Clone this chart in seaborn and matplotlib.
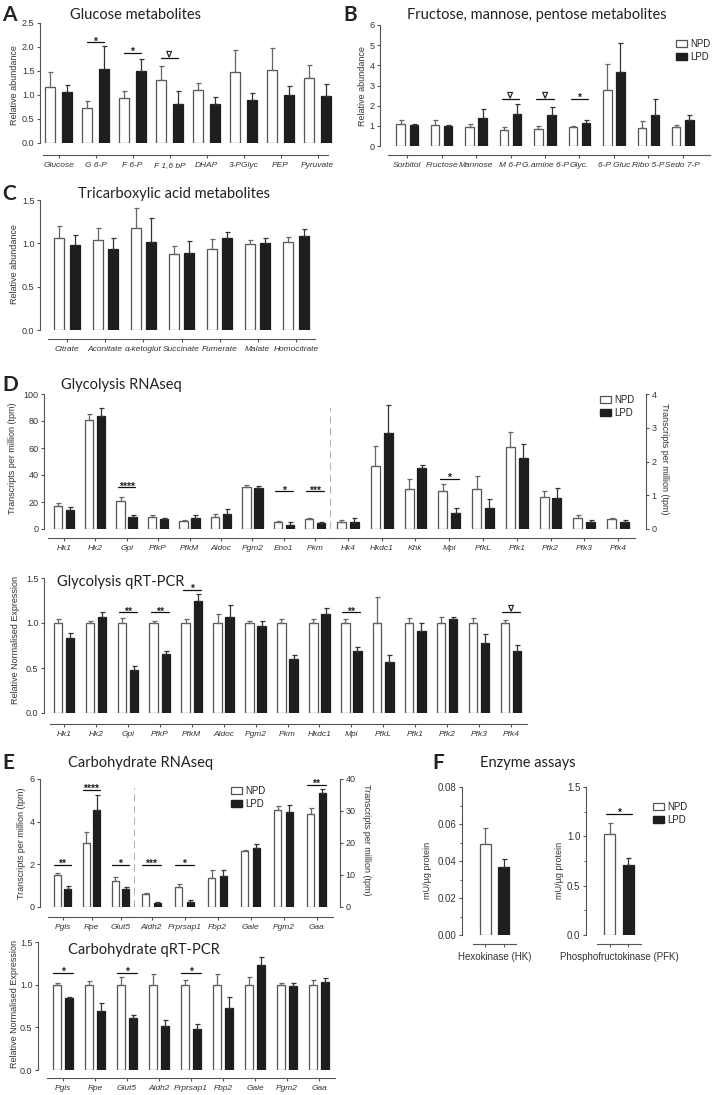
import numpy as np
import pandas as pd
import matplotlib
matplotlib.use('Agg')
import matplotlib.pyplot as plt
import seaborn as sns
from matplotlib.patches import Patch

W, H = 713, 1095

# ---------------- data (mean, SEM) ----------------
a_cats = ['Glucose', 'G 6-P', 'F 6-P', 'F 1,6 bP', 'DHAP', '3-PGlyc', 'PEP', 'Pyruvate']
a_npd = [1.17, 0.72, 0.94, 1.31, 1.11, 1.47, 1.53, 1.35]
a_npd_err = [0.31, 0.15, 0.15, 0.29, 0.14, 0.46, 0.44, 0.28]
a_lpd = [1.06, 1.55, 1.51, 0.82, 0.82, 0.89, 1.01, 0.97]
a_lpd_err = [0.14, 0.48, 0.23, 0.26, 0.14, 0.15, 0.17, 0.26]
a_sig = [('G 6-P', 2.10, '*'), ('F 6-P', 1.88, '*'), ('F 1,6 bP', 1.77, '∇')]

b_cats = ['Sorbitol', 'Fructose', 'Mannose', 'M 6-P', 'G.amine 6-P', 'Glyc.', '6-P Gluc', 'Ribo 5-P', 'Sedo 7-P']
b_npd = [1.10, 1.05, 0.95, 0.79, 0.82, 0.94, 2.76, 0.90, 0.94]
b_npd_err = [0.18, 0.23, 0.14, 0.16, 0.18, 0.05, 1.30, 0.33, 0.10]
b_lpd = [1.02, 0.99, 1.40, 1.61, 1.53, 1.15, 3.65, 1.56, 1.28]
b_lpd_err = [0.05, 0.05, 0.44, 0.48, 0.41, 0.13, 1.45, 0.78, 0.25]
b_sig = [('M 6-P', 2.35, '∇'), ('G.amine 6-P', 2.35, '∇'), ('Glyc.', 2.35, '*')]

c_cats = ['Citrate', 'Aconitate', 'α-ketoglut', 'Succinate', 'Fumerate', 'Malate', 'Homocitrate']
c_npd = [1.06, 1.04, 1.18, 0.88, 0.94, 0.99, 1.01]
c_npd_err = [0.14, 0.14, 0.23, 0.09, 0.11, 0.05, 0.06]
c_lpd = [0.98, 0.93, 1.02, 0.89, 1.06, 1.00, 1.08]
c_lpd_err = [0.12, 0.13, 0.27, 0.14, 0.07, 0.06, 0.08]

# Glycolysis RNAseq, left axis genes (tpm 0-100) and right axis genes (tpm 0-4)
dl_cats = ['Hk1', 'Hk2', 'Gpi', 'PfkP', 'PfkM', 'Aldoc', 'Pgm2', 'Eno1', 'Pkm']
dl_npd = [17.0, 81.0, 20.8, 9.2, 5.9, 9.2, 30.9, 5.0, 7.4]
dl_npd_err = [2.5, 4.0, 2.7, 1.4, 1.0, 1.9, 1.8, 1.0, 1.0]
dl_lpd = [14.0, 83.4, 8.9, 7.4, 7.9, 10.9, 30.7, 2.7, 4.5]
dl_lpd_err = [2.6, 6.2, 1.5, 1.0, 2.5, 3.7, 1.5, 2.7, 0.7]
dl_sig = [('Gpi', 31, '****'), ('Eno1', 28, '*'), ('Pkm', 28, '***')]

dr_cats = ['Hk4', 'Hkdc1', 'Khk', 'Mpi', 'PfkL', 'Pfk1', 'Pfk2', 'Pfk3', 'Pfk4']
dr_npd = [0.20, 1.87, 1.18, 1.13, 1.18, 2.42, 0.94, 0.32, 0.29]
dr_npd_err = [0.07, 0.58, 0.31, 0.20, 0.40, 0.44, 0.18, 0.09, 0.05]
dr_lpd = [0.22, 2.84, 1.82, 0.47, 0.61, 2.10, 0.92, 0.20, 0.20]
dr_lpd_err = [0.10, 0.82, 0.08, 0.14, 0.27, 0.41, 0.29, 0.07, 0.07]
dr_sig = [('Mpi', 1.48, '*')]

dq_cats = ['Hk1', 'Hk2', 'Gpi', 'PfkP', 'PfkM', 'Aldoc', 'Pgm2', 'Pkm', 'Hkdc1', 'Mpi',
           'PfkL', 'Pfk1', 'Pfk2', 'Pfk3', 'Pfk4']
dq_npd = [1.0, 1.0, 1.0, 1.0, 1.0, 1.0, 1.0, 1.0, 1.0, 1.0, 1.0, 1.0, 1.0, 1.0, 1.0]
dq_npd_err = [0.04, 0.02, 0.06, 0.02, 0.04, 0.10, 0.02, 0.04, 0.04, 0.05, 0.29, 0.06, 0.07, 0.06, 0.03]
dq_lpd = [0.83, 1.07, 0.48, 0.66, 1.25, 1.07, 0.97, 0.60, 1.10, 0.69, 0.57, 0.91, 1.04, 0.78, 0.69]
dq_lpd_err = [0.06, 0.05, 0.04, 0.03, 0.07, 0.13, 0.05, 0.05, 0.07, 0.04, 0.07, 0.09, 0.03, 0.10, 0.07]
dq_sig = [('Gpi', 1.12, '**'), ('PfkP', 1.12, '**'), ('PfkM', 1.37, '*'),
          ('Mpi', 1.12, '**'), ('Pfk4', 1.12, '∇')]

# Carbohydrate RNAseq, left axis (tpm 0-6) and right axis (tpm 0-40)
el_cats = ['Pgls', 'Rpe', 'Glut5']
el_npd = [1.50, 3.02, 1.24]
el_npd_err = [0.10, 0.50, 0.16]
el_lpd = [0.85, 4.57, 0.85]
el_lpd_err = [0.15, 0.67, 0.08]
el_sig = [('Pgls', 1.97, '**'), ('Rpe', 5.50, '****'), ('Glut5', 1.97, '*')]

er_cats = ['Aldh2', 'Prprsap1', 'Fbp2', 'Gale', 'Pgm2', 'Gaa']
er_npd = [4.1, 6.4, 9.0, 17.6, 30.2, 29.2]
er_npd_err = [0.3, 0.8, 2.7, 0.3, 1.5, 1.6]
er_lpd = [1.3, 1.55, 9.8, 18.3, 29.8, 35.5]
er_lpd_err = [0.3, 0.55, 1.8, 1.3, 2.0, 1.4]
er_sig = [('Aldh2', 13.1, '***'), ('Prprsap1', 13.1, '*'), ('Gaa', 38.2, '**')]

eq_cats = ['Pgls', 'Rpe', 'Glut5', 'Aldh2', 'Prprsap1', 'Fbp2', 'Gale', 'Pgm2', 'Gaa']
eq_npd = [1.0, 1.0, 1.0, 1.0, 1.0, 1.0, 1.0, 1.0, 1.0]
eq_npd_err = [0.02, 0.04, 0.09, 0.12, 0.06, 0.13, 0.09, 0.02, 0.05]
eq_lpd = [0.84, 0.69, 0.61, 0.52, 0.48, 0.73, 1.23, 0.98, 1.03]
eq_lpd_err = [0.02, 0.10, 0.03, 0.07, 0.06, 0.12, 0.09, 0.04, 0.05]
eq_sig = [('Pgls', 1.14, '*'), ('Glut5', 1.14, '*'), ('Prprsap1', 1.14, '*')]

f_hk_cat = ['Hexokinase (HK)']
f_hk_npd, f_hk_npd_err = [0.049], [0.009]
f_hk_lpd, f_hk_lpd_err = [0.037], [0.004]
f_pfk_cat = ['Phosphofructokinase (PFK)']
f_pfk_npd, f_pfk_npd_err = [1.02], [0.12]
f_pfk_lpd, f_pfk_lpd_err = [0.71], [0.07]
f_pfk_sig = [('Phosphofructokinase (PFK)', 1.23, '*')]

# ---------------- style ----------------
sns.set_theme(style='ticks')
plt.rcParams['font.family'] = ['Liberation Sans', 'DejaVu Sans']
plt.rcParams['axes.linewidth'] = 0.8
plt.rcParams['text.color'] = '#222222'

NPD_EDGE = '#555555'
LPD_FILL = '#1e1e1e'
AX_COL = '#555555'
TITLE_FONT = ['Lato', 'DejaVu Sans']

fig = plt.figure(figsize=(W / 100, H / 100), dpi=100)


def px_axes(left, top, right, bottom):
    return fig.add_axes([left / W, 1 - bottom / H, (right - left) / W, (bottom - top) / H])


def bars(ax, cats, npd, npd_err, lpd, lpd_err, width=0.76, gap=0.3):
    n = len(cats)
    df = pd.DataFrame({'gene': list(cats) * 2,
                       'diet': ['NPD'] * n + ['LPD'] * n,
                       'value': list(npd) + list(lpd)})
    sns.barplot(data=df, x='gene', y='value', hue='diet', order=cats,
                hue_order=['NPD', 'LPD'], palette={'NPD': 'white', 'LPD': LPD_FILL},
                width=width, gap=gap, errorbar=None, legend=False,
                edgecolor=NPD_EDGE, linewidth=0.9, ax=ax)
    conts = list(ax.containers[:2])
    for bar in conts[1]:
        bar.set_edgecolor(LPD_FILL)
    for cont, err, col in zip(conts, [npd_err, lpd_err], ['#666666', '#333333']):
        xs = [b.get_x() + b.get_width() / 2 for b in cont]
        ys = [b.get_height() for b in cont]
        ax.errorbar(xs, ys, yerr=[np.zeros(n), err], fmt='none', ecolor=col,
                    elinewidth=0.9, capsize=1.8, capthick=0.9)
    ax.set_xlim(-0.5, n - 0.5)
    ax.set_xlabel('')
    ax.set_ylabel('')
    return conts


def style(ax, cats, ylim, yticks, drop=9, yout=0, side='left', bounds=None, italic=True):
    ax.set_ylim(*ylim)
    ax.set_yticks(yticks)
    ax.set_xticks(range(len(cats)))
    ax.set_xticklabels(cats)
    for s in ['top', 'right', 'left']:
        ax.spines[s].set_visible(False)
    ax.spines[side].set_visible(True)
    ax.spines[side].set_position(('outward', yout * 0.72))
    ax.spines['bottom'].set_position(('outward', drop * 0.72))
    for s in ax.spines.values():
        s.set_color(AX_COL)
        s.set_linewidth(0.8)
    if bounds is not None:
        ax.spines['bottom'].set_bounds(*bounds)
    if side == 'right':
        ax.yaxis.tick_right()
        ax.yaxis.set_label_position('right')
    ax.tick_params(axis='y', length=2.5, width=0.8, color=AX_COL, labelsize=6.5, pad=1.5,
                   labelcolor='#333333')
    ax.tick_params(axis='x', length=2.5, width=0.8, color=AX_COL, labelsize=6, pad=2.5,
                   labelcolor='#333333')
    if italic:
        for lab in ax.get_xticklabels():
            lab.set_fontstyle('italic')


def sig(ax, cats, marks, half=0.28):
    for gene, y, mark in marks:
        i = list(cats).index(gene)
        ax.plot([i - half, i + half], [y, y], color='#111111', lw=0.9, clip_on=False)
        off = -1.6 if '*' in mark else 0.8
        ax.annotate(mark, (i, y), xytext=(0, off), textcoords='offset points',
                    ha='center', va='baseline', fontsize=7.5 if '*' in mark else 6.5,
                    fontweight='bold', annotation_clip=False)


def ylab(ax, text, x, y, rot=90):
    ax.set_ylabel(text, fontsize=6.5, rotation=rot, color='#333333')
    ax.yaxis.label.set_verticalalignment('center')
    ax.yaxis.set_label_coords(x / W, 1 - y / H, transform=fig.transFigure)


def legend(ax, x, y):
    handles = [Patch(facecolor='white', edgecolor=NPD_EDGE, lw=0.9),
               Patch(facecolor=LPD_FILL, edgecolor=LPD_FILL)]
    ax.legend(handles, ['NPD', 'LPD'], loc='upper left', bbox_to_anchor=(x / W, 1 - y / H),
              bbox_transform=fig.transFigure, frameon=False, fontsize=7,
              handlelength=1.1, handleheight=0.75, handletextpad=0.4,
              labelspacing=0.3, borderaxespad=0, borderpad=0)


def heading(x, y, letter=None, title=None, lx=2):
    if letter:
        fig.text(lx / W, 1 - y / H, letter, fontsize=15, fontweight='bold',
                 family=TITLE_FONT, va='center', ha='left')
    if title:
        fig.text(x / W, 1 - y / H, title, fontsize=10.5, family=TITLE_FONT,
                 va='center', ha='left')


# ---------------- A: glucose metabolites ----------------
ax = px_axes(40, 23, 336, 143)
bars(ax, a_cats, a_npd, a_npd_err, a_lpd, a_lpd_err, width=0.92, gap=0.42)
style(ax, a_cats, (0, 2.5), [0, 0.5, 1.0, 1.5, 2.0, 2.5], drop=12, bounds=(-0.42, 7.28))
sig(ax, a_cats, a_sig, half=0.24)
ylab(ax, 'Relative abundance', 15, 85)
heading(70, 15, 'A', 'Glucose metabolites')

# ---------------- B: fructose, mannose, pentose ----------------
ax = px_axes(390, 25, 700, 146)
bars(ax, b_cats, b_npd, b_npd_err, b_lpd, b_lpd_err, width=0.76, gap=0.36)
style(ax, b_cats, (0, 6), [0, 1, 2, 3, 4, 5, 6], drop=9, yout=10, bounds=(-0.56, 8.8))
sig(ax, b_cats, b_sig, half=0.25)
ylab(ax, 'Relative abundance', 363, 86)
legend(ax, 676, 39)
heading(407, 15, 'B', 'Fructose, mannose, pentose metabolites', lx=343)

# ---------------- C: TCA metabolites ----------------
ax = px_axes(48, 200, 315, 330)
bars(ax, c_cats, c_npd, c_npd_err, c_lpd, c_lpd_err, width=0.8, gap=0.35)
style(ax, c_cats, (0, 1.5), [0, 0.5, 1.0, 1.5], drop=9, yout=8)
ylab(ax, 'Relative abundance', 15, 264)
heading(78, 194, 'C', 'Tricarboxylic acid metabolites')

# ---------------- D: glycolysis RNAseq ----------------
ax = px_axes(48, 394, 331, 529)
bars(ax, dl_cats, dl_npd, dl_npd_err, dl_lpd, dl_lpd_err, width=0.76, gap=0.3)
style(ax, dl_cats, (0, 100), [0, 20, 40, 60, 80, 100], drop=9, yout=4)
sig(ax, dl_cats, dl_sig)
ylab(ax, 'Transcripts per million (tpm)', 13, 458)
ax.axvline(8.5, ymin=0, ymax=0.9, color='#aaaaaa', lw=1.3, ls=(0, (4, 2.5)), clip_on=False)

ax = px_axes(331, 394, 635, 529)
bars(ax, dr_cats, dr_npd, dr_npd_err, dr_lpd, dr_lpd_err, width=0.76, gap=0.3)
style(ax, dr_cats, (0, 4), [0, 1, 2, 3, 4], drop=9, yout=11, side='right')
sig(ax, dr_cats, dr_sig)
ylab(ax, 'Transcripts per million (tpm)', 665, 459, rot=270)
legend(ax, 600, 395)
heading(61, 385, 'D', 'Glycolysis RNAseq')

# ---------------- D: glycolysis qRT-PCR ----------------
ax = px_axes(48, 578, 527, 713)
bars(ax, dq_cats, dq_npd, dq_npd_err, dq_lpd, dq_lpd_err, width=0.76, gap=0.3)
style(ax, dq_cats, (0, 1.5), [0, 0.5, 1.0, 1.5], drop=11, yout=4, bounds=(-0.45, 14.5))
sig(ax, dq_cats, dq_sig)
ylab(ax, 'Relative Normalised Expression', 16, 640)
heading(57, 582, None, 'Glycolysis qRT-PCR')

# ---------------- E: carbohydrate RNAseq ----------------
ax = px_axes(48, 779, 135, 907)
bars(ax, el_cats, el_npd, el_npd_err, el_lpd, el_lpd_err, width=0.72, gap=0.38)
style(ax, el_cats, (0, 6), [0, 2, 4, 6], drop=10, yout=8)
sig(ax, el_cats, el_sig, half=0.3)
ylab(ax, 'Transcripts per million (tpm)', 22, 843)
ax.axvline(2.5, ymin=0, ymax=0.93, color='#aaaaaa', lw=1.3, ls=(0, (4, 2.5)), clip_on=False)

ax = px_axes(135, 779, 333, 907)
bars(ax, er_cats, er_npd, er_npd_err, er_lpd, er_lpd_err, width=0.72, gap=0.38)
style(ax, er_cats, (0, 40), [0, 10, 20, 30, 40], drop=10, yout=7, side='right')
sig(ax, er_cats, er_sig, half=0.3)
ylab(ax, 'Transcripts per million (tpm)', 367, 840, rot=270)
legend(ax, 231, 786)
heading(68, 763, 'E', 'Carbohydrate RNAseq')

# ---------------- E: carbohydrate qRT-PCR ----------------
ax = px_axes(47, 942, 335, 1070)
bars(ax, eq_cats, eq_npd, eq_npd_err, eq_lpd, eq_lpd_err, width=0.76, gap=0.3)
style(ax, eq_cats, (0, 1.5), [0, 0.5, 1.0, 1.5], drop=8, yout=9)
sig(ax, eq_cats, eq_sig, half=0.3)
ylab(ax, 'Relative Normalised Expression', 15, 1004)
heading(68, 950, None, 'Carbohydrate qRT-PCR')

# ---------------- F: enzyme assays ----------------
for (cat, npd, npd_e, lpd, lpd_e, ylim, yt, minor, left, right, lab_x) in [
        (f_hk_cat, f_hk_npd, f_hk_npd_err, f_hk_lpd, f_hk_lpd_err, (0, 0.08),
         [0, 0.02, 0.04, 0.06, 0.08], np.arange(0, 0.081, 0.01), 473, 516, 428),
        (f_pfk_cat, f_pfk_npd, f_pfk_npd_err, f_pfk_lpd, f_pfk_lpd_err, (0, 1.5),
         [0, 0.5, 1.0, 1.5], np.arange(0, 1.51, 0.25), 597, 641, 560)]:
    ax = px_axes(left, 787, right, 935)
    conts = bars(ax, cat, npd, npd_e, lpd, lpd_e, width=0.84, gap=0.38)
    style(ax, cat, ylim, yt, drop=9, yout=11, italic=False)
    ax.set_yticks(minor, minor=True)
    centers = [c[0].get_x() + c[0].get_width() / 2 for c in conts]
    ax.set_xticks(centers, minor=True)
    ax.tick_params(axis='x', which='major', length=0, pad=6, labelsize=7)
    ax.tick_params(axis='y', which='major', labelsize=7)
    ax.tick_params(axis='both', which='minor', length=1.8, width=0.7, color=AX_COL)
    ax.yaxis.set_major_formatter(matplotlib.ticker.FormatStrFormatter('%.2f' if ylim[1] < 1 else '%.1f'))
    ylab(ax, 'mU/µg protein', lab_x, 870)
    if cat == f_pfk_cat:
        sig(ax, cat, f_pfk_sig, half=0.3)
        legend(ax, 653, 802)
heading(480, 763, 'F', 'Enzyme assays', lx=432)

fig.savefig('out.png', dpi=100)
